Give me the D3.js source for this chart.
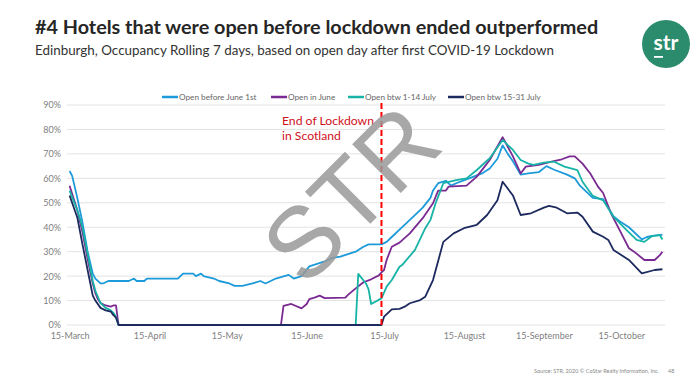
<!DOCTYPE html>
<html>
<head>
<meta charset="utf-8">
<script src="https://cdn.jsdelivr.net/npm/d3@7"></script>
<style>
  html, body { margin: 0; padding: 0; background: #fff; }
  svg { display: block; }
</style>
</head>
<body>
<svg id="chart" width="700" height="390"></svg>
<script>
// ---------- DATA ----------
const titleText = "#4 Hotels that were open before lockdown ended outperformed";
const subtitleText = "Edinburgh, Occupancy Rolling 7 days, based on open day after first COVID-19 Lockdown";
const seriesNames = ["Open before June 1st", "Open in June", "Open btw 1-14 July", "Open btw 15-31 July"];
const tickDates = ["2020-03-15","2020-04-15","2020-05-15","2020-06-15","2020-07-15","2020-08-15","2020-09-15","2020-10-15"];
const tickLabels = ["15-March","15-April","15-May","15-June","15-July","15-August","15-September","15-October"];
const yTicks = [0,10,20,30,40,50,60,70,80,90];
const lockdownEndDate = "2020-07-14";
const annotationLines = ["End of Lockdown", "in Scotland"];

const openBeforeJune = [
  ["2020-03-15",63],["2020-03-16",61],["2020-03-18",52],["2020-03-20",42],["2020-03-22",30],["2020-03-24",21],
  ["2020-03-25",19],["2020-03-27",17],["2020-03-28",17],["2020-03-30",18],["2020-04-07",18],["2020-04-09",19],
  ["2020-04-10",18],["2020-04-13",18],["2020-04-14",19],["2020-04-26",19],["2020-04-28",21],["2020-05-02",21],
  ["2020-05-03",20],["2020-05-05",21],["2020-05-06",20],["2020-05-10",19],["2020-05-12",18],["2020-05-16",17],
  ["2020-05-18",16],["2020-05-21",16],["2020-05-25",17],["2020-05-28",18],["2020-05-30",17],["2020-06-01",18],
  ["2020-06-03",19],["2020-06-08",20.5],["2020-06-10",19],["2020-06-13",20],["2020-06-16",24],["2020-06-19",25],
  ["2020-06-22",26],["2020-06-25",27.5],["2020-06-28",28],["2020-07-01",29],["2020-07-04",30],["2020-07-07",32],
  ["2020-07-09",33],["2020-07-14",33],["2020-07-16",34],["2020-07-18",36],["2020-07-21",39],["2020-07-24",42],
  ["2020-07-28",46],["2020-07-30",48],["2020-08-02",52],["2020-08-03",55],["2020-08-05",58],["2020-08-08",59],
  ["2020-08-10",57],["2020-08-12",58],["2020-08-17",60],["2020-08-22",62],["2020-08-25",64],["2020-08-28",68],
  ["2020-08-30",73.5],["2020-09-01",70],["2020-09-03",67],["2020-09-06",61.5],["2020-09-09",62],["2020-09-13",62.5],
  ["2020-09-16",65],["2020-09-19",63.5],["2020-09-24",61.5],["2020-09-27",60],["2020-09-29",57],["2020-10-04",52],
  ["2020-10-08",51.5],["2020-10-12",44.5],["2020-10-15",42],["2020-10-18",40],["2020-10-23",35],["2020-10-25",36],
  ["2020-10-27",36.5],["2020-10-31",37]
];
const openInJune = [
  ["2020-03-15",57],["2020-03-18",47],["2020-03-20",38],["2020-03-22",27],["2020-03-24",17],["2020-03-25",13],
  ["2020-03-26",10.5],["2020-03-27",9],["2020-03-29",8],["2020-03-31",7.5],["2020-04-01",8],["2020-04-02",8],
  ["2020-04-03",0],["2020-06-05",0],["2020-06-06",7.8],["2020-06-09",8.6],["2020-06-13",6.8],["2020-06-15",8.6],
  ["2020-06-16",10.6],["2020-06-18",11.2],["2020-06-20",12],["2020-06-22",11],["2020-06-30",11.2],["2020-07-01",12.3],
  ["2020-07-04",15],["2020-07-07",17.5],["2020-07-10",18.7],["2020-07-13",20.3],["2020-07-14",21.5],["2020-07-15",22.5],
  ["2020-07-16",26.6],["2020-07-18",32],["2020-07-21",33.7],["2020-07-25",37.5],["2020-07-30",43.7],["2020-08-03",49.8],
  ["2020-08-05",55],["2020-08-08",55],["2020-08-09",56.6],["2020-08-16",57],["2020-08-20",60.7],["2020-08-25",67.5],
  ["2020-08-30",76.8],["2020-09-03",69],["2020-09-06",62],["2020-09-08",64.8],["2020-09-13",65.5],["2020-09-18",66.8],
  ["2020-09-22",67.8],["2020-09-25",69],["2020-09-27",69],["2020-09-30",66],["2020-10-03",62],["2020-10-06",56.6],
  ["2020-10-08",54],["2020-10-11",45.8],["2020-10-15",37.6],["2020-10-18",31.4],["2020-10-20",30],["2020-10-24",26.6],
  ["2020-10-28",26.6],["2020-10-30",28.6],["2020-10-31",30]
];
const openEarlyJuly = [
  ["2020-03-15",55],["2020-03-18",47],["2020-03-20",40],["2020-03-22",29],["2020-03-24",18],["2020-03-25",14],
  ["2020-03-27",9],["2020-03-29",7],["2020-03-31",6],["2020-04-01",5],["2020-04-02",3.4],["2020-04-03",0],
  ["2020-07-04",0],["2020-07-05",20.9],["2020-07-08",17],["2020-07-09",14.6],["2020-07-10",8.6],["2020-07-14",10.9],
  ["2020-07-16",15.7],["2020-07-18",18.4],["2020-07-21",23.8],["2020-07-22",24.5],["2020-07-27",30.7],["2020-07-31",39.6],
  ["2020-08-02",43],["2020-08-04",49.8],["2020-08-05",52.5],["2020-08-07",58],["2020-08-12",59.3],["2020-08-16",60],
  ["2020-08-20",63.4],["2020-08-25",68.2],["2020-08-30",75.7],["2020-09-03",71.6],["2020-09-06",67.5],["2020-09-09",66],
  ["2020-09-11",65.5],["2020-09-15",66.4],["2020-09-19",66.8],["2020-09-23",64.8],["2020-09-28",63.4],["2020-09-30",58.6],
  ["2020-10-04",52.8],["2020-10-08",51],["2020-10-12",44.3],["2020-10-17",38.9],["2020-10-21",34.8],["2020-10-24",34],
  ["2020-10-27",36.4],["2020-10-30",36.8],["2020-10-31",35]
];
const openLateJuly = [
  ["2020-03-15",53],["2020-03-18",44],["2020-03-20",33],["2020-03-22",22.5],["2020-03-24",12],["2020-03-25",10],
  ["2020-03-27",7],["2020-03-29",6],["2020-03-31",5.5],["2020-04-01",4],["2020-04-02",3],["2020-04-03",0],
  ["2020-07-14",0],["2020-07-15",3.4],["2020-07-18",6.4],["2020-07-21",6.6],["2020-07-23",7.5],["2020-07-25",8.9],
  ["2020-07-29",10.2],["2020-07-31",11.6],["2020-08-03",18.4],["2020-08-07",34],["2020-08-11",37.5],["2020-08-15",39.6],
  ["2020-08-20",41],["2020-08-24",45],["2020-08-28",51],["2020-08-30",58.6],["2020-09-03",53],["2020-09-06",45],
  ["2020-09-10",45.7],["2020-09-15",48],["2020-09-17",48.7],["2020-09-20",48],["2020-09-24",45.7],["2020-09-28",46],
  ["2020-09-30",44.3],["2020-10-04",38.2],["2020-10-08",36.1],["2020-10-10",34.8],["2020-10-12",30.7],["2020-10-18",26.6],
  ["2020-10-23",21.1],["2020-10-28",22.5],["2020-10-31",22.8]
];
const seriesColors = ["#1d9ad9", "#7a2a92", "#17b3a6", "#1c2a5e"];

// ---------- CHART ----------
const parse = d3.utcParse("%Y-%m-%d");
const svg = d3.select("#chart");
const allSeries = [openBeforeJune, openInJune, openEarlyJuly, openLateJuly];
const FONT = "Lato, 'Open Sans', sans-serif";

const x = d3.scaleUtc()
  .domain([parse("2020-03-14"), parse("2020-11-01")])
  .range([67, 665]);
const y = d3.scaleLinear().domain([0, 90]).range([325, 105]);

// Title & subtitle
svg.append("text").attr("x", 35).attr("y", 34)
  .attr("font-family", FONT).attr("font-weight", 700)
  .attr("font-size", 19.8).attr("fill", "#262626").text(titleText);
svg.append("text").attr("x", 35).attr("y", 55)
  .attr("font-family", FONT)
  .attr("font-size", 13.4).attr("fill", "#333").text(subtitleText);

// Logo
const logo = svg.append("g").attr("transform", "translate(666,44)");
logo.append("circle").attr("r", 24).attr("fill", "#2a8b6d");
logo.append("text").attr("x", 0).attr("y", 6).attr("text-anchor", "middle")
  .attr("font-family", FONT).attr("font-weight", 700).attr("font-size", 21)
  .attr("fill", "#fff").text("str");
logo.append("rect").attr("x", -12).attr("y", 12).attr("width", 9).attr("height", 1.8).attr("fill", "#fff");

// Gridlines
svg.append("g").selectAll("line").data(yTicks).join("line")
  .attr("x1", 67).attr("x2", 665)
  .attr("y1", d => y(d)).attr("y2", d => y(d))
  .attr("stroke", "#e3e3e3").attr("stroke-width", 1);

// Y axis
const yAxis = d3.axisLeft(y).tickValues(yTicks).tickFormat(d => d + "%").tickSize(0).tickPadding(6);
const gy = svg.append("g").attr("transform", "translate(67,0)").call(yAxis);
gy.select(".domain").remove();
gy.selectAll("text").attr("font-family", FONT).attr("font-size", 9).attr("fill", "#808080");

// X axis
const xAxis = d3.axisBottom(x).tickValues(tickDates.map(parse))
  .tickFormat((d, i) => tickLabels[i]).tickSize(0).tickPadding(8);
const gx = svg.append("g").attr("transform", "translate(0,325)").call(xAxis);
gx.select(".domain").remove();
gx.selectAll("text").attr("font-family", FONT).attr("font-size", 9).attr("fill", "#808080");

// Lines
const line = d3.line().x(d => x(parse(d[0]))).y(d => y(d[1]));
svg.append("g").selectAll("path").data(allSeries).join("path")
  .attr("d", line).attr("fill", "none")
  .attr("stroke", (d, i) => seriesColors[i]).attr("stroke-width", 1.8)
  .attr("stroke-linejoin", "round");

// Lockdown end line
const lx = x(parse(lockdownEndDate));
svg.append("line").attr("x1", lx).attr("x2", lx).attr("y1", 103).attr("y2", 325)
  .attr("stroke", "#f00").attr("stroke-width", 2).attr("stroke-dasharray", "6,3");
svg.append("g").selectAll("text").data(annotationLines).join("text")
  .attr("x", 282).attr("y", (d, i) => 125 + i * 14.5)
  .attr("font-family", FONT).attr("font-size", 12.2)
  .attr("fill", "#d0101b").text(d => d);

// Legend
const legendX = [162, 271, 348, 448];
const leg = svg.append("g").selectAll("g").data(seriesNames).join("g")
  .attr("transform", (d, i) => `translate(${legendX[i]},97)`);
leg.append("line").attr("x1", 0).attr("x2", 16).attr("y1", 0).attr("y2", 0)
  .attr("stroke", (d, i) => seriesColors[i]).attr("stroke-width", 2.5);
leg.append("text").attr("x", 17).attr("y", 3)
  .attr("font-family", FONT).attr("font-size", 8.2)
  .attr("fill", "#666").text(d => d);

// Watermark
svg.append("text")
  .attr("transform", "translate(350,193) rotate(-45)")
  .attr("text-anchor", "middle").attr("dy", "0.36em")
  .attr("font-family", "'Liberation Sans', Arial, sans-serif").attr("font-size", 100)
  .attr("fill", "#999").attr("fill-opacity", 0.85).text("STR");

// Footer
svg.append("text").attr("x", 659).attr("y", 373).attr("text-anchor", "end")
  .attr("font-family", FONT).attr("font-size", 5.5)
  .attr("fill", "#888").text("Source: STR, 2020 © CoStar Realty Information, Inc.");
svg.append("text").attr("x", 668).attr("y", 373)
  .attr("font-family", FONT).attr("font-size", 5.5)
  .attr("fill", "#888").text("48");
</script>
</body>
</html>
